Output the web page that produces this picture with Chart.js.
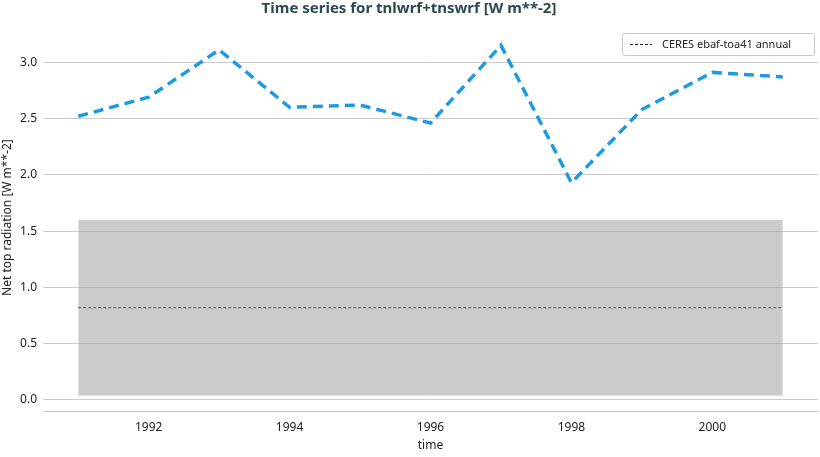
<!DOCTYPE html><html><head><meta charset="utf-8">
<script src="https://cdn.jsdelivr.net/npm/chart.js@4"></script>
<style>html,body{margin:0;background:#fff}#w{width:820px;height:457px}</style></head><body><div id="w"><canvas id="c"></canvas></div>
<script>
const years=[1991,1992,1993,1994,1995,1996,1997,1998,1999,2000,2001];
const model=[2.52,2.69,3.11,2.60,2.62,2.46,3.15,1.93,2.58,2.91,2.87];
const ceresMean=0.82, ceresLow=0.04, ceresHigh=1.60;
const xTicks=[1992,1994,1996,1998,2000];
const yTicks=[0,0.5,1,1.5,2,2.5,3];
const F='"Noto Sans", sans-serif';
const span=(v)=>[{x:years[0],y:v},{x:years[years.length-1],y:v}];
const legendPlugin={id:'lg',afterDraw(c){const x=c.ctx,a=c.chartArea;x.save();
const w=192,h=22,bx=a.right-w-4,by=a.top+9;x.fillStyle='#fff';x.strokeStyle='#ccc';x.lineWidth=1;
x.beginPath();x.roundRect(bx+.5,by+.5,w,h,2);x.fill();x.stroke();
x.strokeStyle='#222';x.setLineDash([3,2]);x.beginPath();x.moveTo(bx+8,by+11.5);x.lineTo(bx+30,by+11.5);x.stroke();x.setLineDash([]);
x.fillStyle='#222';x.font='11px '+F;x.textBaseline='middle';x.fillText('CERES ebaf-toa41 annual',bx+40,by+12);x.restore();}};
new Chart(document.getElementById('c'),{type:'line',data:{datasets:[
{data:span(ceresHigh),borderWidth:0,pointRadius:0,fill:'+1',backgroundColor:'rgba(160,160,160,0.55)'},
{data:span(ceresLow),borderWidth:0,pointRadius:0,fill:false},
{data:span(ceresMean),borderColor:'#222',borderWidth:1.2,borderDash:[3,2],pointRadius:0,fill:false},
{data:years.map((y,i)=>({x:y,y:model[i]})),borderColor:'#1f9ae0',borderWidth:3.5,borderDash:[10,6],pointRadius:0,fill:false,tension:0}
]},options:{animation:false,responsive:true,maintainAspectRatio:false,
layout:{padding:{top:0,right:2,bottom:0,left:0}},
plugins:{legend:{display:false},tooltip:{enabled:false},
title:{display:true,text:'Time series for tnlwrf+tnswrf [W m**-2]',color:'#2b4a4f',font:{family:F,size:15,weight:'bold'},padding:{top:0,bottom:6}}},
scales:{x:{type:'linear',min:1990.5,max:2001.5,afterBuildTicks(s){s.ticks=xTicks.map(v=>({value:v}))},
grid:{display:false,drawTicks:true,tickLength:5,tickColor:'#333'},border:{color:'#ccc'},
ticks:{color:'#222',font:{family:F,size:12},padding:4,callback:v=>String(v),maxRotation:0},
title:{display:true,text:'time',color:'#222',font:{family:F,size:12},padding:{top:0}}},
y:{min:-0.1,max:3.34,afterBuildTicks(s){s.ticks=yTicks.map(v=>({value:v}))},afterFit(s){s.width=43},
grid:{color:'#ccc',tickLength:0,drawTicks:false},border:{display:false},
ticks:{color:'#222',font:{family:F,size:12},padding:6,callback:v=>v.toFixed(1)},
title:{display:true,text:'Net top radiation [W m**-2]',color:'#222',font:{family:F,size:12},padding:0}}}},
plugins:[legendPlugin]});
</script></body></html>
